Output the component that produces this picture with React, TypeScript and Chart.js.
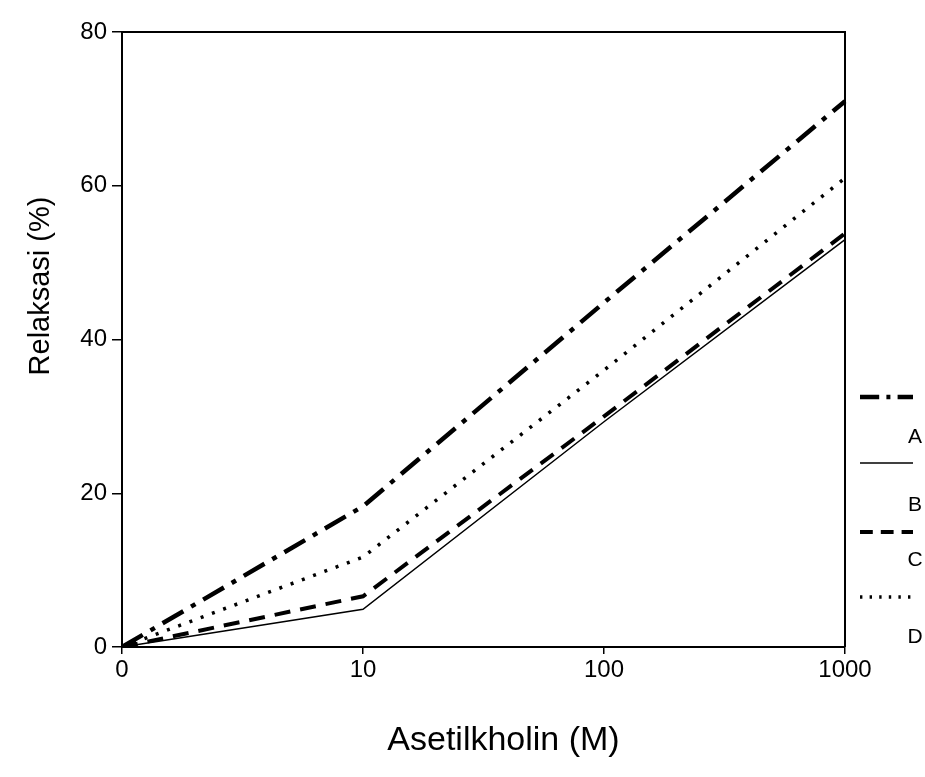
import React, { useEffect, useRef } from "react";
import { Chart, registerables } from "chart.js";

Chart.register(...registerables);

const categories = ["0", "10", "100", "1000"];
const seriesA = [0, 18.3, 44.8, 71.0];
const seriesB = [0, 4.9, 29.3, 53.0];
const seriesC = [0, 6.6, 30.0, 53.8];
const seriesD = [0, 11.7, 36.0, 61.0];
const seriesNames = ["A", "B", "C", "D"];
const yTicks = [0, 20, 40, 60, 80];
const xTitle = "Asetilkholin (M)";
const yTitle = "Relaksasi (%)";

const styles = [
  { width: 4.5, dash: [24, 9, 5, 9] },
  { width: 1.5, dash: [] as number[] },
  { width: 4, dash: [16, 10] },
  { width: 3.5, dash: [3, 9] },
];

const FONT = "'Liberation Sans', Arial, sans-serif";

const framePlugin = {
  id: "frameAndLegend",
  afterDraw(chart: any) {
    const { ctx, chartArea } = chart;
    const { left, right, top, bottom } = chartArea;
    ctx.save();
    ctx.strokeStyle = "#000";
    ctx.lineWidth = 2;
    ctx.beginPath();
    ctx.moveTo(left, top);
    ctx.lineTo(right, top);
    ctx.lineTo(right, bottom);
    ctx.stroke();

    // axis titles
    ctx.fillStyle = "#000";
    ctx.textAlign = "center";
    ctx.textBaseline = "middle";
    ctx.font = `34px ${FONT}`;
    ctx.fillText(xTitle, left + (right - left) / 2 + 20, bottom + 94);
    ctx.save();
    ctx.translate(left - 81, top + 254);
    ctx.rotate(-Math.PI / 2);
    ctx.font = `29px ${FONT}`;
    ctx.fillText(yTitle, 0, 0);
    ctx.restore();

    // custom legend: sample line above each letter
    const offs = [
      { line: -250, label: -210 },
      { line: -184, label: -142 },
      { line: -115, label: -87 },
      { line: -50, label: -10 },
    ];
    ctx.font = `21px ${FONT}`;
    seriesNames.forEach((name, i) => {
      const st = styles[i];
      ctx.beginPath();
      ctx.lineWidth = st.width;
      ctx.setLineDash(st.dash.length ? st.dash.map((d) => d * 0.8) : []);
      ctx.moveTo(right + 15, bottom + offs[i].line);
      ctx.lineTo(right + 68, bottom + offs[i].line);
      ctx.stroke();
      ctx.setLineDash([]);
      ctx.fillText(name, right + 70, bottom + offs[i].label);
    });
    ctx.restore();
  },
};

export default function App() {
  const ref = useRef<HTMLCanvasElement | null>(null);
  useEffect(() => {
    if (!ref.current) return;
    const all = [seriesA, seriesB, seriesC, seriesD];
    const chart = new Chart(ref.current, {
      type: "line",
      data: {
        labels: categories,
        datasets: all.map((d, i) => ({
          label: seriesNames[i],
          data: d,
          borderColor: "#000",
          borderWidth: styles[i].width,
          borderDash: styles[i].dash,
          pointRadius: 0,
          fill: false,
          tension: 0,
        })),
      },
      options: {
        animation: false,
        responsive: false,
        maintainAspectRatio: false,
        layout: { padding: { top: 32, right: 80, left: 0, bottom: 0 } },
        plugins: { legend: { display: false }, tooltip: { enabled: false } },
        scales: {
          x: {
            type: "category",
            offset: false,
            grid: { drawOnChartArea: false, tickLength: 7, color: "#000", lineWidth: 1.5 },
            border: { color: "#000", width: 2 },
            ticks: { color: "#000", font: { family: FONT, size: 24 }, padding: 2, maxRotation: 0 },
            title: { display: false, text: xTitle },
            afterFit(scale: any) {
              scale.height = 130;
            },
          },
          y: {
            min: 0,
            max: 80,
            afterBuildTicks(scale: any) {
              scale.ticks = yTicks.map((v) => ({ value: v }));
            },
            grid: { drawOnChartArea: false, tickLength: 10, color: "#000", lineWidth: 1.5 },
            border: { color: "#000", width: 2 },
            ticks: { color: "#000", font: { family: FONT, size: 24 }, padding: 5 },
            title: { display: false, text: yTitle },
            afterFit(scale: any) {
              scale.width = 122;
            },
          },
        },
      },
      plugins: [framePlugin],
    });
    return () => chart.destroy();
  }, []);
  return (
    <div style={{ position: "fixed", left: 0, top: 0, width: 925, height: 777, background: "#fff" }}>
      <canvas ref={ref} width={925} height={777} style={{ width: 925, height: 777 }} />
    </div>
  );
}
